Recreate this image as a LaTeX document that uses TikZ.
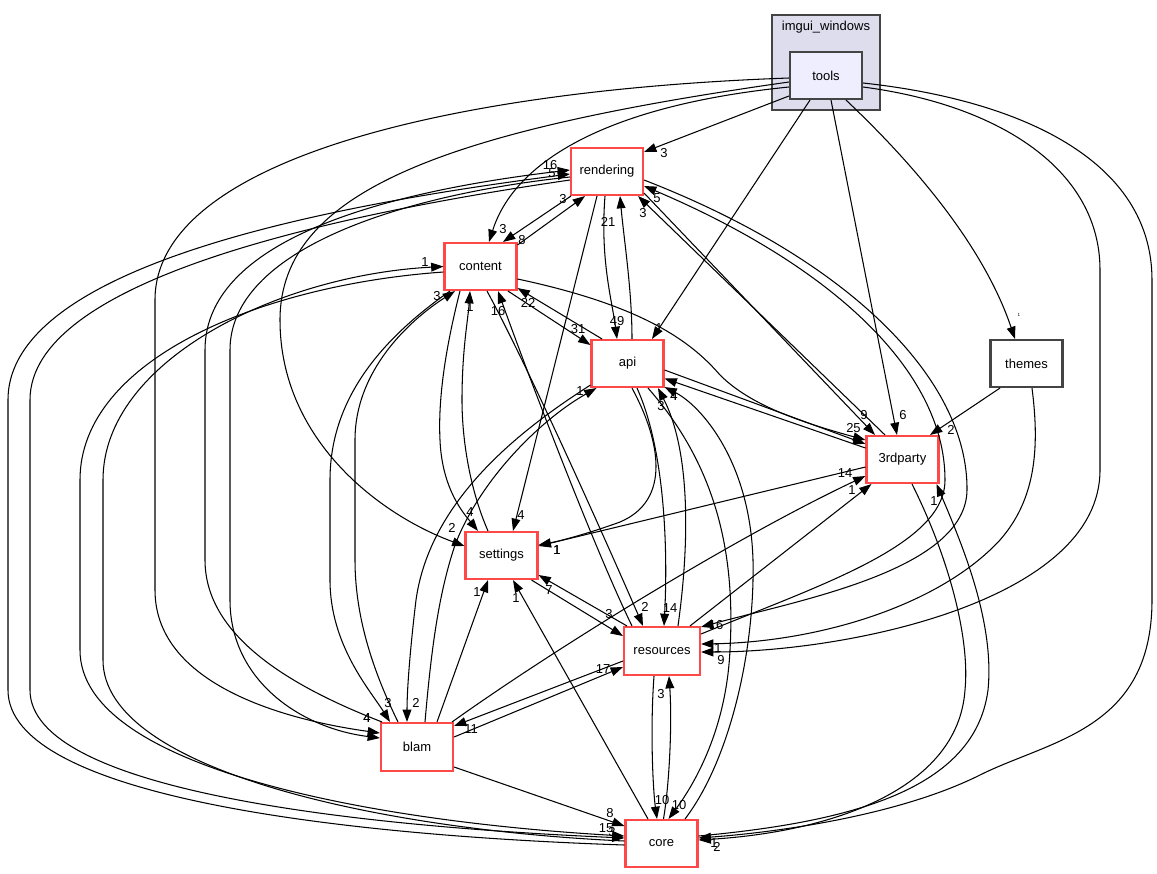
\documentclass[tikz,border=0pt]{standalone}
\usepackage{fontspec}
\setmainfont{Liberation Sans}
\usepackage{tikz}
\usetikzlibrary{arrows.meta, calc}

\definecolor{dirred}{RGB}{255,72,72}
\definecolor{dirgray}{RGB}{68,68,68}
\definecolor{clusterfill}{RGB}{221,221,238}
\definecolor{toolsfill}{RGB}{238,238,255}

\begin{document}
\begin{tikzpicture}[
      x=0.02cm, y=-0.02cm,
      font=\fontsize{7.4}{9}\selectfont,
      dirbox/.style={draw=dirred, line width=1.2pt, fill=white, rectangle,
          minimum width=1.44cm, minimum height=0.94cm, inner sep=0pt},
      dirplain/.style={dirbox, draw=dirgray},
      dirtools/.style={dirbox, draw=dirgray, fill=toolsfill},
      clusterbox/.style={draw=dirgray, line width=1.2pt, fill=clusterfill, rectangle,
          minimum width=2.16cm, minimum height=1.9cm, inner sep=0pt},
      dep/.style={-{Triangle[length=7pt, width=5pt]}, line width=0.6pt},
      lbl/.style={inner sep=0pt},
    ]

    \path[fill=white] (0,0) rectangle (1157,873);
    \useasboundingbox (0,0) rectangle (1157,873);

    \node[clusterbox] (imgui) at (826,62.5) {};
    \node (imguilbl) at (826,27) {imgui\_windows};
    \node[dirtools] (tools) at (826,75.5) {tools};
    \node[dirbox] (rendering) at (607,171.5) {rendering};
    \node[dirbox] (content) at (480.5,266.5) {content};
    \node[dirbox] (api) at (627.5,363.5) {api};
    \node[dirplain] (themes) at (1026.5,363.5) {themes};
    \node[dirbox] (third) at (902.5,459.5) {3rdparty};
    \node[dirbox] (settings) at (501.5,555.5) {settings};
    \node[dirbox, minimum width=1.52cm, minimum height=0.96cm] (resources) at (662,651) {resources};
    \node[dirbox, minimum height=0.96cm] (blam) at (417,747) {blam};
    \node[dirbox] (core) at (661.5,843.5) {core};

    % tools
    \draw[dep] ($(tools.west)+(0,20.5)$) -- ($(rendering.north east)+(0,5)$) node[lbl] at (664,153) {3};
    \draw[dep] ($(tools.west)+(0,11.5)$) .. controls (610,105) and (515,160) .. ($(content.north)+(8.5,0)$) node[lbl] at (503,229) {3};
    \draw[dep] ($(tools.west)+(0,6.5)$) .. controls (450,130) and (280,190) .. (280,320) .. controls (280,440) and (380,515) .. ($(settings.west)+(0,-9.5)$) node[lbl] at (452,528) {2};
    \draw[dep] ($(tools.west)+(0,2.5)$) .. controls (450,90) and (155,160) .. (155,300) -- (155,590) .. controls (155,690) and (300,722) .. ($(blam.west)+(0,-14)$) node[lbl] at (367,718) {4};
    \draw[dep] ($(tools.south)+(-16,0)$) -- ($(api.north)+(24.5,0)$) node[lbl] at (659,328) {1};
    \draw[dep] ($(tools.south)+(5,0)$) -- ($(third.north)+(-5.5,0)$) node[lbl] at (903,415) {6};
    \draw[dep] ($(tools.south)+(20,0)$) .. controls (920,170) and (985,250) .. ($(themes.north)+(-11.5,0)$) node[lbl, scale=0.35] at (1019,315) {1};
    \draw[dep] ($(tools.east)+(0,11.5)$) .. controls (1000,105) and (1100,170) .. (1100,270) -- (1100,470) .. controls (1100,600) and (850,652) .. ($(resources.east)+(0,1)$) node[lbl] at (721,660) {9};
    \draw[dep] ($(tools.east)+(0,7.5)$) .. controls (1020,100) and (1152,160) .. (1152,280) -- (1152,600) .. controls (1152,730) and (1050,740) .. (980,775) .. controls (900,815) and (780,832) .. ($(core.east)+(0,-5.5)$) node[lbl] at (717,847) {2};

    % rendering
    \draw[dep] ($(rendering.south)+(-2,0)$) .. controls (600,260) and (612,300) .. ($(api.north)+(-10.5,0)$) node[lbl] at (617,321) {49};
    \draw[dep] ($(api.north)+(4.5,0)$) .. controls (632,290) and (624,240) .. ($(rendering.south)+(13,0)$) node[lbl] at (608,222) {21};
    \draw[dep] ($(rendering.south)+(-10,0)$) -- ($(settings.north)+(11.5,0)$) node[lbl] at (521,515) {4};
    \draw[dep] ($(rendering.south west)+(1,0)$) -- ($(content.north)+(22.5,0)$) node[lbl] at (522,240) {8};
    \draw[dep] ($(content.north east)+(0,3)$) -- ($(rendering.south)+(-22,0)$) node[lbl] at (563,199) {3};
    \draw[dep] ($(rendering.south east)+(0,-3)$) -- ($(third.north)+(-27.5,0)$) node[lbl] at (864,415) {9};
    \draw[dep] ($(third.north)+(-17.5,0)$) -- ($(rendering.south east)+(-6,0)$) node[lbl] at (643,213) {3};
    \draw[dep] ($(rendering.east)+(0,8.5)$) .. controls (850,260) and (968,380) .. (967,490) .. controls (966,570) and (800,600) .. ($(resources.north east)+(0,1)$) node[lbl] at (716,625) {16};
    \draw[dep] ($(resources.east)+(0,-17)$) .. controls (820,585) and (945,545) .. (945,480) .. controls (945,370) and (830,265) .. ($(rendering.east)+(0,14.5)$) node[lbl] at (657,198) {5};
    \draw[dep] ($(rendering.west)+(0,5.5)$) .. controls (400,195) and (230,250) .. (230,350) -- (230,600) .. controls (230,680) and (300,728) .. ($(blam.west)+(0,-9)$) node[lbl] at (367,718) {4};
    \draw[dep] ($(blam.north west)+(2,0)$) .. controls (300,690) and (205,640) .. (205,560) -- (205,350) .. controls (205,235) and (400,190) .. ($(rendering.west)+(0,-1.5)$) node[lbl] at (550,165) {16};
    \draw[dep] ($(rendering.west)+(0,8.5)$) .. controls (330,215) and (30,280) .. (30,400) -- (30,690) .. controls (30,790) and (350,826) .. ($(core.west)+(0,-5.5)$) node[lbl] at (606,828) {15};
    \draw[dep] ($(core.west)+(0,1.5)$) .. controls (330,835) and (8,795) .. (8,690) -- (8,400) .. controls (8,265) and (330,205) .. ($(rendering.west)+(0,2.5)$) node[lbl] at (552,173) {5};

    % content
    \draw[dep] ($(core.west)+(0,-2.5)$) .. controls (380,830) and (103,770) .. (103,660) -- (103,480) .. controls (103,360) and (280,275) .. (content.west) node[lbl] at (425,262) {1};
    \draw[dep] ($(content.west)+(0,5.5)$) .. controls (260,285) and (80,360) .. (80,480) -- (80,650) .. controls (80,770) and (380,822) .. ($(core.west)+(0,-7.5)$) node[lbl] at (612,832) {3};
    \draw[dep] ($(content.south)+(-30.5,0)$) .. controls (380,340) and (330,400) .. (330,480) -- (330,580) .. controls (330,645) and (370,690) .. ($(blam.north)+(-27,0)$) node[lbl] at (388,703) {3};
    \draw[dep] ($(blam.north)+(-19,0)$) .. controls (375,675) and (355,620) .. (355,560) -- (355,440) .. controls (355,370) and (410,320) .. ($(content.south)+(-25.5,0)$) node[lbl] at (437,296) {3};
    \draw[dep] ($(content.south)+(-20.5,0)$) .. controls (445,350) and (438,400) .. (440,440) .. controls (442,490) and (465,515) .. ($(settings.north)+(-23.5,0)$) node[lbl] at (470,512) {4};
    \draw[dep] ($(settings.north)+(-13.5,0)$) .. controls (470,490) and (462,440) .. (462,400) .. controls (462,350) and (468,320) .. ($(content.south)+(-10.5,0)$) node[lbl] at (470,307) {1};
    \draw[dep] ($(content.south)+(6.5,0)$) .. controls (530,370) and (610,550) .. ($(resources.north)+(-19,0)$) node[lbl] at (645,607) {2};
    \draw[dep] ($(resources.north)+(-30,0)$) .. controls (595,550) and (530,380) .. ($(content.south)+(17.5,0)$) node[lbl] at (498,311) {16};
    \draw[dep] ($(content.south)+(27.5,0)$) -- ($(api.west)+(0,-18.5)$) node[lbl] at (578,329) {31};
    \draw[dep] ($(api.north)+(-25.5,0)$) -- ($(content.south east)+(0,-3)$) node[lbl] at (528,303) {22};
    \draw[dep] ($(content.east)+(0,12.5)$) .. controls (640,305) and (690,340) .. (720,375) .. controls (750,405) and (800,422) .. ($(third.west)+(0,-19.5)$) node[lbl] at (850,428) {2};

    % api
    \draw[dep] ($(api.east)+(0,6.5)$) -- ($(third.west)+(0,-15.5)$) node[lbl] at (857,428) {5};
    \draw[dep] ($(third.west)+(0,-11.5)$) -- ($(api.east)+(0,15)$) node[lbl] at (674,396) {4};
    \draw[dep] ($(api.south)+(4.5,0)$) .. controls (660,440) and (672,500) .. (620,522) .. controls (590,533) and (560,541) .. ($(settings.east)+(0,-10.5)$) node[lbl] at (557,550) {1};
    \draw[dep] ($(third.west)+(0,7.5)$) -- ($(settings.east)+(0,-9.5)$) node[lbl] at (557,550) {1};
    \draw[dep] ($(api.south west)+(0,-3)$) .. controls (520,430) and (430,500) .. (416,600) .. controls (410,650) and (407,690) .. ($(blam.north)+(-10,0)$) node[lbl] at (416,703) {2};
    \draw[dep] ($(blam.north)+(8,0)$) .. controls (432,640) and (440,590) .. (455,545) .. controls (480,480) and (540,420) .. ($(api.south west)+(6,0)$) node[lbl] at (580,391) {1};
    \draw[dep] ($(api.south)+(9.5,0)$) .. controls (665,450) and (668,550) .. ($(resources.north)+(2,0)$) node[lbl] at (670,608) {14};
    \draw[dep] ($(resources.north)+(16,0)$) .. controls (690,540) and (690,450) .. ($(api.south)+(30.5,0)$) node[lbl] at (661,406) {3};
    \draw[dep] ($(api.south)+(20.5,0)$) .. controls (720,470) and (735,560) .. (730,650) .. controls (726,735) and (690,790) .. ($(core.north)+(7,0)$) node[lbl] at (679,805) {10};
    \draw[dep] ($(core.north)+(23.5,0)$) .. controls (730,760) and (755,650) .. (753,560) .. controls (750,460) and (700,405) .. ($(api.south east)+(0,-1)$) node[lbl] at (674,396) {4};

    % themes, 3rdparty
    \draw[dep] ($(themes.south)+(-26.5,0)$) -- ($(third.north)+(27.5,0)$) node[lbl] at (951,430) {2};
    \draw[dep] ($(themes.south)+(5.5,0)$) .. controls (1040,450) and (1035,500) .. (1000,540) .. controls (940,605) and (820,642) .. ($(resources.east)+(0,-7)$) node[lbl] at (718,648) {1};
    \draw[dep] ($(resources.north)+(28,0)$) -- ($(third.south west)+(6,0)$) node[lbl] at (852,490) {1};
    \draw[dep] ($(blam.north east)+(-2,0)$) .. controls (560,645) and (740,535) .. ($(third.west)+(0,16.5)$) node[lbl] at (845,473) {14};
    \draw[dep] ($(third.south)+(9.5,0)$) .. controls (950,560) and (970,640) .. (965,690) .. controls (958,790) and (830,832) .. ($(core.east)+(0,-3.5)$) node[lbl] at (714,843) {1};
    \draw[dep] ($(core.east)+(0,-7.5)$) .. controls (850,822) and (975,790) .. (988,690) .. controls (995,620) and (960,540) .. ($(third.south east)+(-3,0)$) node[lbl] at (934,501) {1};

    % settings, resources, blam, core
    \draw[dep] ($(settings.south east)+(-7,0)$) -- ($(resources.west)+(0,-15)$) node[lbl] at (609,614) {3};
    \draw[dep] ($(resources.north west)+(4,0)$) -- ($(settings.east)+(0,19.5)$) node[lbl] at (549,590) {7};
    \draw[dep] ($(blam.east)+(0,-10)$) -- ($(resources.west)+(0,16)$) node[lbl] at (603,669) {17};
    \draw[dep] ($(resources.west)+(0,10)$) -- ($(blam.north east)+(0,4)$) node[lbl] at (471,729) {11};
    \draw[dep] ($(blam.north)+(20,0)$) -- ($(settings.south)+(-13.5,0)$) node[lbl] at (477,592) {1};
    \draw[dep] ($(core.north)+(-13.5,0)$) -- ($(settings.south)+(11.5,0)$) node[lbl] at (516,598) {1};
    \draw[dep] ($(blam.east)+(0,20)$) -- ($(core.west)+(0,-17.5)$) node[lbl] at (610,813) {8};
    \draw[dep] ($(resources.south)+(-8,0)$) .. controls (650,730) and (653,790) .. ($(core.north)+(-4.5,0)$) node[lbl] at (662,800) {10};
    \draw[dep] ($(core.north)+(2,0)$) .. controls (670,780) and (672,720) .. ($(resources.south)+(7,0)$) node[lbl] at (661,694) {3};

  \end{tikzpicture}
\end{document}
